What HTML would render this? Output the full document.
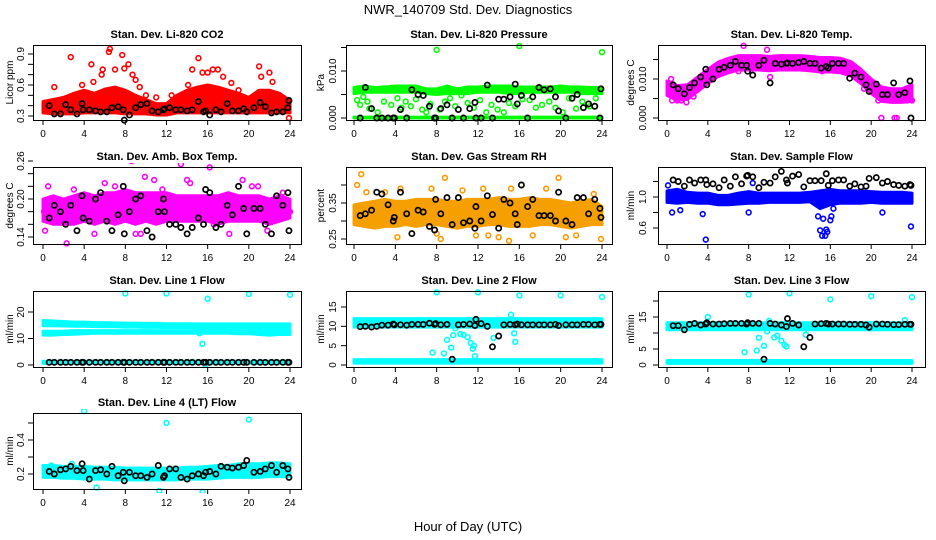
<!DOCTYPE html>
<html><head><meta charset="utf-8">
<style>
html,body{margin:0;padding:0;background:#fff;}
svg{display:block;font-family:"Liberation Sans",Arial,sans-serif;}
</style></head>
<body>
<svg id="chart" width="936" height="540" viewBox="0 0 936 540" xmlns="http://www.w3.org/2000/svg">
<rect width="936" height="540" fill="#fff"/>
<text x="468" y="14" text-anchor="middle" font-size="13">NWR_140709 Std. Dev. Diagnostics</text>
<text x="468" y="531" text-anchor="middle" font-size="13">Hour of Day (UTC)</text>
</svg>
<script>
// shared sample times for black points (hours)
const bt = [0.6,1.1,1.7,2.2,2.7,3.3,3.8,3.9,4.5,5.1,5.6,6.2,6.7,7.3,7.8,7.9,8.4,9.0,9.5,10.1,10.6,11.2,11.7,11.8,12.3,12.9,13.4,14.0,14.5,15.1,15.6,15.8,16.2,16.8,17.3,17.9,18.4,19.0,19.5,19.8,20.5,21.1,21.6,22.2,22.7,23.3,23.8,23.9];
const hours = [0,1,2,3,4,5,6,7,8,9,10,11,12,13,14,15,16,17,18,19,20,21,22,23,24];
const ends = [0,24];
const xTicks = [0,4,8,12,16,20,24];

// Panel 1: CO2
const bv1 = [0.40,0.32,0.32,0.41,0.36,0.32,0.42,0.36,0.36,0.35,0.34,0.34,0.38,0.39,0.36,0.26,0.31,0.38,0.41,0.42,0.35,0.34,0.36,0.37,0.38,0.36,0.36,0.35,0.36,0.44,0.34,0.35,0.31,0.36,0.34,0.42,0.35,0.35,0.37,0.34,0.38,0.43,0.39,0.33,0.34,0.34,0.38,0.45];
const lo1 = [0.33,0.32,0.32,0.32,0.33,0.33,0.33,0.33,0.32,0.32,0.32,0.31,0.31,0.33,0.33,0.33,0.33,0.33,0.33,0.33,0.33,0.33,0.33,0.33,0.33];
const hi1 = [0.44,0.46,0.48,0.52,0.55,0.52,0.56,0.58,0.55,0.50,0.46,0.42,0.42,0.50,0.55,0.58,0.60,0.58,0.55,0.52,0.48,0.55,0.55,0.52,0.45];
const ct1 = [1.1,2.7,3.8,4.7,4.9,5.7,5.8,6.4,6.5,7.0,7.7,7.9,8.3,8.7,9.0,9.4,15.1,14.5,15.5,16.0,16.5,17.0,17.5,18.3,19.0,21.0,21.2,22.0,22.3,23.9,14.1,12.5,10.0,11.0,0.2,2.0];
const cv1 = [0.58,0.87,0.60,0.80,0.63,0.70,0.75,0.92,0.95,0.75,0.89,0.76,0.80,0.70,0.65,0.58,0.86,0.75,0.72,0.72,0.75,0.75,0.68,0.62,0.55,0.78,0.68,0.72,0.63,0.28,0.60,0.50,0.50,0.48,0.42,0.45];

// Panel 2: Pressure
const bv2 = [0,0.0065,0.002,0,0,0,0,0,0.0018,0,0.006,0.005,0.0048,0.0025,0,0,0.002,0.0028,0,0.0018,0,0.002,0.0033,0,0,0.007,0,0.004,0.004,0.0045,0.0072,0.003,0.0048,0,0.0045,0.0065,0.006,0.0062,0.0045,0.0015,0,0.0042,0.005,0.0022,0.003,0.0025,0,0.0062];
const lo2a = [0,0];
const hi2a = [0.0002,0.0002];
const lo2b = [0.0052,0.0055,0.0055,0.0055,0.0055,0.0055,0.0055,0.0052,0.005,0.0052,0.0052,0.0052,0.0055,0.0055,0.0055,0.0052,0.0052,0.0055,0.0055,0.0055,0.0055,0.0055,0.0052,0.0052,0.0052];
const hi2b = [0.0065,0.0068,0.0065,0.0066,0.0068,0.0068,0.0068,0.0062,0.0062,0.0068,0.0062,0.0066,0.0066,0.0068,0.0068,0.0068,0.0066,0.0066,0.0066,0.0066,0.0068,0.0066,0.0066,0.0065,0.0065];
const ct2 = [0.3,0.6,0.9,1.3,1.5,2.3,2.9,3.6,4.2,4.6,5.0,5.5,6.0,6.6,7.0,7.4,8.3,8.8,9.3,9.8,10.4,11.0,11.6,12.2,12.8,13.3,13.9,14.5,15.0,15.6,16.3,17.0,17.6,18.2,18.9,19.5,20.2,20.8,21.5,22.1,22.8,23.4,8.0,16.0,24.0];
const cv2 = [0.0038,0.0028,0.0045,0.0035,0.002,0.0012,0.0035,0.0028,0.0042,0.0022,0.0035,0.0025,0.004,0.0018,0.0012,0.003,0.0018,0.0035,0.0042,0.0025,0.0048,0.0032,0.0022,0.0038,0.0012,0.0028,0.0018,0.0012,0.0032,0.0025,0.004,0.0038,0.0022,0.0028,0.0035,0.0022,0.0012,0.0042,0.002,0.0035,0.0025,0.0042,0.0145,0.0153,0.014];

// Panel 3: Li-820 Temp
const bv3 = [0.0085,0.0075,0.0062,0.0078,0.009,0.0105,0.0125,0.0085,0.010,0.0125,0.013,0.0135,0.0145,0.0135,0.0135,0.012,0.011,0.0135,0.0148,0.009,0.014,0.0138,0.014,0.0141,0.014,0.0142,0.0145,0.014,0.014,0.0128,0.0132,0.0128,0.014,0.014,0.014,0.0102,0.0115,0.0105,0.0085,0.0068,0.0087,0.006,0.006,0.009,0.006,0.0065,0.0095,0];
const lo3 = [0.0058,0.0045,0.0048,0.0068,0.0088,0.0106,0.0116,0.0123,0.0123,0.0123,0.0121,0.0123,0.0123,0.0123,0.0121,0.0118,0.0118,0.0116,0.0108,0.0088,0.0063,0.0043,0.004,0.004,0.0043];
const hi3 = [0.0095,0.0083,0.0085,0.0105,0.0125,0.0143,0.0153,0.016,0.016,0.016,0.0158,0.016,0.016,0.016,0.0158,0.0155,0.0155,0.0153,0.0145,0.0125,0.01,0.008,0.0075,0.0075,0.0085];
const ct3 = [0.4,0.5,1.0,1.4,1.9,2.6,7.5,7.0,9.8,10.1,15.2,19.3,20.7,21.0,22.3,22.5,23.5,24.0];
const cv3 = [0.010,0.0045,0.0045,0.0045,0.004,0.0055,0.0185,0.012,0.0175,0.0105,0.012,0.0075,0.0045,0,0,0,0.0045,0.0045];

// Panel 4: Amb Box Temp
const bv4 = [0.17,0.19,0.18,0.16,0.19,0.15,0.205,0.17,0.165,0.20,0.21,0.165,0.15,0.175,0.22,0.145,0.18,0.2,0.205,0.15,0.14,0.18,0.2,0.18,0.16,0.16,0.155,0.145,0.155,0.17,0.16,0.215,0.21,0.155,0.16,0.19,0.175,0.22,0.185,0.145,0.185,0.185,0.16,0.145,0.205,0.19,0.21,0.15];
const lo4 = [0.165,0.16,0.16,0.16,0.165,0.16,0.165,0.16,0.165,0.16,0.165,0.16,0.165,0.165,0.165,0.165,0.165,0.16,0.165,0.165,0.165,0.165,0.16,0.165,0.17];
const hi4 = [0.2,0.205,0.2,0.205,0.21,0.205,0.21,0.21,0.215,0.21,0.21,0.21,0.21,0.205,0.205,0.205,0.205,0.205,0.21,0.205,0.205,0.205,0.2,0.205,0.2];
const ct4 = [0.1,0.2,2.3,5.0,6.0,8.6,9.0,9.5,9.9,10.8,11.6,13.4,14.0,14.3,16.2,16.6,18.1,19.4,20.3,20.9,21.8,23.3,24.0,0.5,3.0,7.0];
const cv4 = [0.18,0.15,0.13,0.145,0.225,0.26,0.145,0.145,0.235,0.23,0.215,0.255,0.23,0.225,0.25,0.16,0.145,0.23,0.22,0.22,0.15,0.21,0.18,0.22,0.215,0.22];

// Panel 5: Gas Stream RH
const bv5 = [0.315,0.32,0.33,0.38,0.375,0.345,0.3,0.31,0.38,0.32,0.265,0.33,0.325,0.285,0.275,0.36,0.32,0.365,0.29,0.365,0.295,0.3,0.28,0.34,0.3,0.37,0.318,0.28,0.36,0.35,0.32,0.29,0.4,0.34,0.36,0.315,0.315,0.315,0.3,0.38,0.3,0.29,0.365,0.365,0.32,0.36,0.335,0.31];
const lo5 = [0.29,0.285,0.28,0.285,0.285,0.29,0.285,0.29,0.29,0.285,0.28,0.285,0.285,0.29,0.29,0.285,0.285,0.285,0.29,0.29,0.285,0.28,0.285,0.29,0.29];
const hi5 = [0.345,0.35,0.355,0.36,0.355,0.355,0.36,0.36,0.36,0.355,0.355,0.36,0.36,0.36,0.365,0.36,0.36,0.365,0.36,0.36,0.355,0.35,0.355,0.36,0.34];
const ct5 = [0.7,0.3,1.2,3.0,4.5,4.2,7.5,8.0,8.8,8.4,10.5,11.8,12.5,13.0,14.0,15.0,15.2,17.3,18.6,19.8,20.5,21.5,23.2,23.9];
const cv5 = [0.43,0.40,0.38,0.38,0.39,0.255,0.39,0.265,0.42,0.25,0.385,0.26,0.39,0.26,0.255,0.245,0.39,0.26,0.39,0.42,0.255,0.26,0.375,0.25];

// Panel 6: Sample Flow
const bv6 = [1.22,1.2,1.14,1.22,1.18,1.22,1.22,1.16,1.17,1.12,1.22,1.14,1.26,1.17,1.27,1.28,1.26,1.12,1.19,1.18,1.26,1.33,1.22,1.18,1.27,1.29,1.13,1.21,1.21,1.21,1.3,1.15,1.21,1.22,1.22,1.14,1.17,1.13,1.14,1.24,1.25,1.18,1.2,1.16,1.15,1.14,1.16,1.15];
const lo6 = [0.93,0.92,0.93,0.92,0.92,0.9,0.9,0.91,0.92,0.92,0.93,0.93,0.93,0.93,0.94,0.85,0.9,0.92,0.92,0.92,0.93,0.92,0.92,0.92,0.92];
const hi6 = [1.08,1.1,1.06,1.05,1.05,1.02,1.02,1.05,1.07,1.05,1.05,1.05,1.05,1.05,1.06,1.08,1.1,1.08,1.08,1.08,1.07,1.06,1.06,1.06,1.05];
const ct6 = [0.5,1.3,3.5,3.8,8.0,8.4,14.8,15.0,15.2,15.3,15.5,15.6,15.7,16.0,16.1,16.3,21.1,23.9,0.1];
const cv6 = [0.8,0.83,0.78,0.45,0.8,1.18,0.75,0.57,0.5,0.72,0.5,0.58,0.55,0.7,0.75,0.85,0.8,0.62,1.15];

// Panel 7: Line 1 Flow
const bv7 = [1,1,1,1,1,1,1,1,1,1,1,1,1,1,1,1,1,1,1,1,1,1,1,1,1,1,1,1,1,1,1,1,1,1,1,1,1,1,1,1,1,1,1,1,1,1,1,1];
const lo7a = [14.8,14.8,14.7,14.6,14.6,14.5,14.4,14.4,14.3,14.3,14.2,14.2,14.1,14.1,14.1,14.0,14,14,14,14,14,14,14,14,14];
const hi7a = [16.8,16.6,16.4,16.2,16.2,16.0,16.0,15.9,15.8,15.8,15.7,15.7,15.6,15.6,15.6,15.5,15.5,15.5,15.5,15.5,15.5,15.5,15.5,15.5,15.5];
const lo7b = [11.3,11.3,11.5,11.6,11.8,12,12,12,12,12,12,12,12,12,12,12,12,12,12,11.8,11.8,11.5,11.3,11.5,11.5];
const hi7b = [12.7,12.7,12.8,13,13.0,13.0,13.0,13.0,13.0,13.0,13.0,13.0,13.0,13.0,13.0,13.0,13.0,13.0,13.0,13.0,13.0,13.0,13.0,13.0,13.0];
const lo7c = [0.6,0.6];
const hi7c = [1.4,1.4];
const ct7 = [8.0,12.0,16.0,20.0,24.0,15.5,15.2,15.8];
const cv7 = [27,27,25,26.8,26.5,8,12,0];

// Panel 8: Line 2 Flow
const bv8 = [9.9,10.0,9.8,10.0,10.3,10.3,10.6,10.4,10.4,10.3,10.5,10.5,10.5,10.8,10.5,10.7,10.4,10.5,1.5,10.4,10.5,10.6,10.2,11.8,10.7,10.0,4.7,7.5,10.4,10.5,10.4,10.6,10.4,10.4,10.4,10.4,10.4,10.4,10.5,10.2,10.4,10.4,10.4,10.5,10.5,10.4,10.5,10.5];
const lo8 = [9.8,9.8];
const hi8 = [12.0,12.0];
const lo8b = [0.5,0.5];
const hi8b = [1.4,1.4];
const ct8 = [7.6,8.0,8.7,9.0,9.4,9.6,9.8,10.3,10.6,11.0,11.3,11.5,11.7,12.0,13.5,15.2,15.5,15.6,16.0,20.0,24.0,11.6];
const cv8 = [3.2,18.8,3.0,6.5,4.5,7.7,9.5,8.0,7.8,7.2,5.7,4.2,2.3,18.8,7.0,13.0,8.2,6.0,18.0,18.0,17.6,5.0];

// Panel 9: Line 3 Flow
const bv9 = [12.3,12.3,11.0,12.7,13.0,12.5,12.8,13.2,12.8,12.8,12.9,13.0,13.0,13.0,12.8,13.2,13.0,13.0,1.8,13.0,12.8,12.5,12.0,14.5,13.0,12.5,5.7,8.6,12.8,12.9,13.0,12.8,12.8,12.8,12.8,12.7,12.7,12.7,12.5,11.8,12.8,12.8,12.7,12.6,12.6,12.7,12.7,12.7];
const lo9 = [11.0,11.0];
const hi9 = [13.2,13.2];
const lo9b = [0.5,0.5];
const hi9b = [1.4,1.4];
const ct9 = [7.6,8.0,8.8,9.0,9.5,9.8,10.0,10.5,10.8,11.2,11.5,11.7,12.0,13.6,4.0,16.0,20.0,24.0,23.3];
const cv9 = [4,22,4.5,8.5,6,10.5,13.8,8.6,9.2,7.6,6.3,5.8,22.4,9.5,15,20.5,21.5,21.2,14];

// Panel 10: Line 4 (LT) Flow
const bv10 = [0.215,0.2,0.225,0.23,0.245,0.22,0.26,0.22,0.17,0.22,0.225,0.2,0.245,0.19,0.21,0.16,0.21,0.19,0.19,0.18,0.2,0.25,0.18,0.19,0.23,0.23,0.18,0.17,0.19,0.2,0.19,0.21,0.215,0.2,0.245,0.24,0.235,0.24,0.25,0.28,0.21,0.215,0.23,0.25,0.21,0.25,0.23,0.18];
const lo10 = [0.18,0.18,0.175,0.175,0.17,0.17,0.17,0.165,0.165,0.165,0.165,0.165,0.165,0.165,0.17,0.17,0.17,0.175,0.18,0.18,0.18,0.18,0.185,0.185,0.185];
const hi10 = [0.25,0.25,0.245,0.245,0.245,0.24,0.24,0.24,0.235,0.235,0.235,0.235,0.235,0.235,0.24,0.24,0.245,0.25,0.25,0.26,0.26,0.26,0.265,0.265,0.26];
const ct10 = [4.0,12.0,20.0,5.2,11.3,15.5,2.8,0.8];
const cv10 = [0.57,0.5,0.52,0.12,0.1,0.095,0.26,0.25];

// Y-axis tick values and labels per panel
const yt1 = [0.3,0.4,0.5,0.6,0.7,0.8,0.9];   const yl1 = ["0.3","0.6","0.9"];
const yt2 = [0,0.005,0.01,0.015];             const yl2 = ["0.000","0.010"];
const yt3 = [0,0.005,0.01,0.015];             const yl3 = ["0.000","0.010"];
const yt4 = [0.14,0.16,0.18,0.2,0.22,0.24,0.26]; const yl4 = ["0.14","0.20","0.26"];
const yt5 = [0.25,0.3,0.35,0.4];              const yl5 = ["0.25","0.35"];
const yt6 = [0.6,0.8,1.0,1.2];                const yl6 = ["0.6","1.0"];
const yt7 = [0,10,20];                        const yl7 = ["0","10","20"];
const yt8 = [0,5,10,15];                      const yl8 = ["0","5","10","15"];
const yt9 = [0,5,10,15,20];                   const yl9 = ["0","5","15"];
const yt10 = [0.2,0.3,0.4,0.5];               const yl10 = ["0.2","0.4"];

const NS = "http://www.w3.org/2000/svg";
const svg = document.getElementById('chart');
function mk(tag, attrs, parent) {
  const e = document.createElementNS(NS, tag);
  for (const k in attrs) e.setAttribute(k, attrs[k]);
  (parent || svg).appendChild(e);
  return e;
}
const cols = [{x0:33,x1:301,a:43,b:290,lab:13,tl:24},{x0:346,x1:612,a:354,b:602,lab:324,tl:336},{x0:658,x1:925,a:667,b:912,lab:634,tl:646}];
const rows = [{y0:45,y1:120},{y0:167,y1:244},{y0:291,y1:367},{y0:413,y1:489}];

const panels = [
 {key:'co2',title:'Stan. Dev. Li-820 CO2',ylab:'Licor ppm',c:0,r:0,ya:[0.3,116,0.9,54],yt:yt1,yl:yl1,color:'#ff0000',bands:[[hours,lo1,hi1]],ct:ct1,cv:cv1,bv:bv1},
 {key:'pressure',title:'Stan. Dev. Li-820 Pressure',ylab:'kPa',c:1,r:0,ya:[0,118,0.01,71],yt:yt2,yl:yl2,color:'#00ff00',bands:[[ends,lo2a,hi2a],[hours,lo2b,hi2b]],ct:ct2,cv:cv2,bv:bv2},
 {key:'li820-temp',title:'Stan. Dev. Li-820 Temp.',ylab:'degrees C',c:2,r:0,ya:[0,118,0.01,79],yt:yt3,yl:yl3,color:'#ff00ff',bands:[[hours,lo3,hi3]],ct:ct3,cv:cv3,bv:bv3},
 {key:'amb-box-temp',title:'Stan. Dev. Amb. Box Temp.',ylab:'degrees C',c:0,r:1,ya:[0.14,237,0.26,161],yt:yt4,yl:yl4,color:'#ff00ff',bands:[[hours,lo4,hi4]],ct:ct4,cv:cv4,bv:bv4},
 {key:'gas-rh',title:'Stan. Dev. Gas Stream RH',ylab:'percent',c:1,r:1,ya:[0.25,239,0.35,203],yt:yt5,yl:yl5,color:'#ff9900',fill:'#f5a000',bands:[[hours,lo5,hi5]],ct:ct5,cv:cv5,bv:bv5},
 {key:'sample-flow',title:'Stan. Dev. Sample Flow',ylab:'ml/min',c:2,r:1,ya:[0.6,228,1.0,197],yt:yt6,yl:yl6,color:'#0000ff',bands:[[hours,lo6,hi6]],ct:ct6,cv:cv6,bv:bv6},
 {key:'line1-flow',title:'Stan. Dev. Line 1 Flow',ylab:'ml/min',c:0,r:2,ya:[0,365,20,312],yt:yt7,yl:yl7,color:'#00ffff',bands:[[hours,lo7a,hi7a],[hours,lo7b,hi7b],[ends,lo7c,hi7c]],ct:ct7,cv:cv7,bv:bv7},
 {key:'line2-flow',title:'Stan. Dev. Line 2 Flow',ylab:'ml/min',c:1,r:2,ya:[0,365,15,307],yt:yt8,yl:yl8,color:'#00ffff',bands:[[ends,lo8,hi8],[ends,lo8b,hi8b]],ct:ct8,cv:cv8,bv:bv8},
 {key:'line3-flow',title:'Stan. Dev. Line 3 Flow',ylab:'ml/min',c:2,r:2,ya:[0,365,15,317],yt:yt9,yl:yl9,color:'#00ffff',bands:[[ends,lo9,hi9],[ends,lo9b,hi9b]],ct:ct9,cv:cv9,bv:bv9},
 {key:'line4-flow',title:'Stan. Dev. Line 4 (LT) Flow',ylab:'ml/min',c:0,r:3,ya:[0.2,474,0.4,440],yt:yt10,yl:yl10,color:'#00ffff',bands:[[hours,lo10,hi10]],ct:ct10,cv:cv10,bv:bv10}
];

panels.forEach(p => {
  const C = cols[p.c], R = rows[p.r];
  const xs = t => C.a + (C.b - C.a) * t / 24;
  const ys = v => p.ya[1] + (p.ya[3] - p.ya[1]) * (v - p.ya[0]) / (p.ya[2] - p.ya[0]);
  const g = mk('g', {});
  
  
  const clip = mk('clipPath', {id: 'clip-' + p.key}, g);
  mk('rect', {x: C.x0, y: R.y0 - 4, width: C.x1 - C.x0, height: R.y1 - R.y0 + 8}, clip);
  const dg = mk('g', {'clip-path': 'url(#clip-' + p.key + ')'}, g);
  
  
  p.bands.forEach(b => {
    const [t, lo, hi] = b;
    let pts = [];
    for (let i = 0; i < t.length; i++) pts.push(xs(t[i]).toFixed(1) + ',' + ys(hi[i]).toFixed(1));
    for (let i = t.length - 1; i >= 0; i--) pts.push(xs(t[i]).toFixed(1) + ',' + ys(lo[i]).toFixed(1));
    const poly = mk('polygon', {points: pts.join(' '), fill: p.fill || p.color, stroke: p.fill || p.color, 'stroke-width': 3, 'stroke-linejoin': 'round'}, dg);
    
    
  });
  for (let i = 0; i < p.ct.length; i++) {
    const c = mk('circle', {cx: xs(p.ct[i]), cy: ys(p.cv[i]), r: 2.4, fill: 'none', stroke: p.color, 'stroke-width': 1.6}, dg);
    
    
  }
  for (let i = 0; i < bt.length; i++) {
    const c = mk('circle', {cx: xs(bt[i]), cy: ys(p.bv[i]), r: 2.6, fill: 'none', stroke: '#000', 'stroke-width': 1.7}, dg);
    
    
  }
  const box = mk('rect', {x: C.x0 + 0.5, y: R.y0 + 0.5, width: C.x1 - C.x0, height: R.y1 - R.y0, fill: 'none', stroke: '#000', 'stroke-width': 1}, g);
  
  
  const tt = mk('text', {x: (C.x0 + C.x1) / 2, y: R.y0 - 7, 'text-anchor': 'middle', 'font-size': 11, 'font-weight': 'bold'}, g);
  tt.textContent = p.title;
  
  
  xTicks.forEach(v => {
    const x = xs(v);
    mk('line', {x1: x, x2: x, y1: R.y1, y2: R.y1 + 5, stroke: '#000'}, g);
    const tl = mk('text', {x: x, y: R.y1 + 17, 'text-anchor': 'middle', 'font-size': 10}, g);
    tl.textContent = v;
    
    
  });
  p.yt.forEach(v => {
    const y = ys(v);
    mk('line', {x1: C.x0 - 5, x2: C.x0, y1: y, y2: y, stroke: '#000'}, g);
  });
  p.yl.forEach(s => {
    const y = ys(parseFloat(s));
    const tl = mk('text', {x: C.tl, y: y, 'text-anchor': 'middle', 'font-size': 10, transform: 'rotate(-90 ' + C.tl + ' ' + y + ')'}, g);
    tl.textContent = s;
    
    
  });
  const ym = (R.y0 + R.y1) / 2;
  const yl = mk('text', {x: C.lab, y: ym, 'text-anchor': 'middle', 'font-size': 10, transform: 'rotate(-90 ' + C.lab + ' ' + ym + ')'}, g);
  yl.textContent = p.ylab;
  
  
});
</script>
</body></html>
